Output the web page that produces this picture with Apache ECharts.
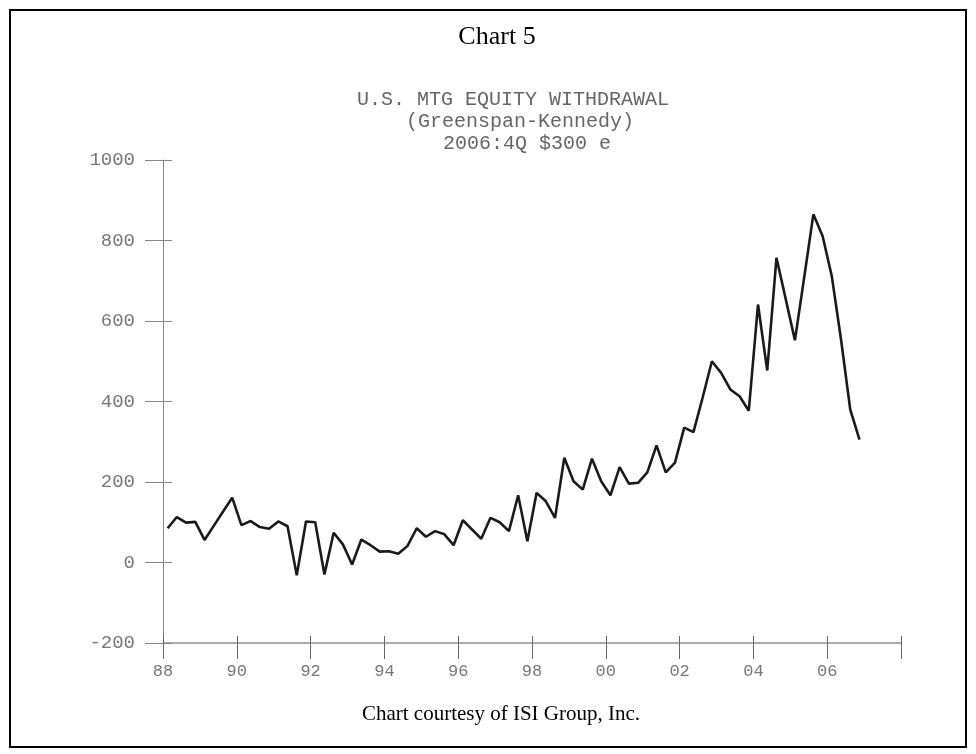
<!DOCTYPE html>
<html>
<head>
<meta charset="utf-8">
<script src="https://cdn.jsdelivr.net/npm/echarts@6/dist/echarts.min.js"></script>
<style>
html,body{margin:0;padding:0;background:#fff;}
#chart{width:976px;height:754px;}
</style>
</head>
<body>
<div id="chart"></div>
<script>
// ---- Data (quarterly, $ billions) ----
var startYear = 1988;
var endYear = 2006;
var withdrawal = [
  85, 113, 99, 101,        // 1988
  56, 91, 126, 161,        // 1989
  93, 103, 88, 84,         // 1990
  102, 90, -32, 102,       // 1991
  100, -30, 74, 45,        // 1992
  -5, 57, 43, 27,          // 1993
  28, 22, 41, 85,          // 1994
  64, 78, 70, 43,          // 1995
  105, 82, 59, 111,        // 1996
  100, 78, 167, 53,        // 1997
  173, 152, 111, 260,      // 1998
  202, 181, 258, 202,      // 1999
  167, 237, 196, 198,      // 2000
  224, 291, 224, 248,      // 2001
  335, 324, 410, 500,      // 2002
  471, 430, 413, 377,      // 2003
  641, 477, 757, 655,      // 2004
  552, 707, 865, 811,      // 2005
  711, 554, 380, 305       // 2006
];
var xTickLabels = {1988:'88',1990:'90',1992:'92',1994:'94',1996:'96',1998:'98',2000:'00',2002:'02',2004:'04',2006:'06',2008:''};
var yTickLabels = {'-200':'-200','0':'0','200':'200','400':'400','600':'600','800':'800','1000':'1000'};
var titleLines = ['U.S. MTG EQUITY WITHDRAWAL', '(Greenspan-Kennedy)', '2006:4Q $300 e'];
var headerText = 'Chart 5';
var footerText = 'Chart courtesy of ISI Group, Inc.';

// quarter labels and their positions on the time (year) axis: middle of each quarter
var quarterLabels = [];
for (var y = startYear; y <= endYear; y++) for (var q = 1; q <= 4; q++) quarterLabels.push(y + 'Q' + q);
var seriesData = quarterLabels.map(function (lab, i) {
  var yr = parseInt(lab.slice(0, 4), 10), qt = parseInt(lab.slice(5), 10);
  return [yr + (qt - 0.5) / 4, withdrawal[i]];
});

var chart = echarts.init(document.getElementById('chart'), null, {renderer: 'canvas'});
var mono = '"Liberation Mono", "DejaVu Sans Mono", monospace';
var serif = '"Liberation Serif", "Times New Roman", serif';

var option = {
  backgroundColor: '#fff',
  animation: false,
  grid: {left: 163, top: 160, width: 738, height: 483, containLabel: false},
  xAxis: [
    {
      type: 'value', min: 1988, max: 2008, interval: 2,
      axisLine: {show: true, onZero: false, lineStyle: {color: '#aaa', width: 2}},
      axisTick: {show: true, inside: false, length: 16, lineStyle: {color: '#666', width: 1}},
      axisLabel: {margin: 20, color: '#777', fontFamily: mono, fontSize: 17,
        formatter: function (v) { return xTickLabels[v] !== undefined ? xTickLabels[v] : ''; }},
      splitLine: {show: false}
    },
    {
      type: 'value', min: 1988, max: 2008, interval: 2, position: 'bottom',
      axisLine: {show: false, onZero: false},
      axisTick: {show: true, inside: true, length: 7, lineStyle: {color: '#666', width: 1}},
      axisLabel: {show: false}, splitLine: {show: false}
    }
  ],
  yAxis: [
    {
      type: 'value', min: -200, max: 1000, interval: 200,
      axisLine: {show: true, onZero: false, lineStyle: {color: '#888', width: 1}},
      axisTick: {show: true, inside: false, length: 18, lineStyle: {color: '#888', width: 1}},
      axisLabel: {margin: 28, color: '#777', fontFamily: mono, fontSize: 19,
        formatter: function (v) { return yTickLabels[String(v)] || ''; }},
      splitLine: {show: false}
    },
    {
      type: 'value', min: -200, max: 1000, interval: 200, position: 'left',
      axisLine: {show: false, onZero: false},
      axisTick: {show: true, inside: true, length: 9, lineStyle: {color: '#888', width: 1}},
      axisLabel: {show: false}, splitLine: {show: false}
    }
  ],
  series: [{
    type: 'line',
    data: seriesData,
    showSymbol: false,
    symbol: 'none',
    lineStyle: {color: '#1a1a1a', width: 2.6},
    silent: true
  }],
  graphic: [
    {type: 'rect', shape: {x: 10, y: 10, width: 956, height: 737}, style: {fill: 'none', stroke: '#000', lineWidth: 2}, silent: true},
    {type: 'text', x: 497, y: 37, style: {text: headerText, font: '26px ' + serif, fill: '#000', align: 'center', verticalAlign: 'middle'}},
    {type: 'text', x: 513, y: 100, style: {text: titleLines[0], font: '20px ' + mono, fill: '#666', align: 'center', verticalAlign: 'middle'}},
    {type: 'text', x: 520, y: 122, style: {text: titleLines[1], font: '20px ' + mono, fill: '#666', align: 'center', verticalAlign: 'middle'}},
    {type: 'text', x: 527, y: 144, style: {text: titleLines[2], font: '20px ' + mono, fill: '#666', align: 'center', verticalAlign: 'middle'}},
    {type: 'text', x: 501, y: 714, style: {text: footerText, font: '21px ' + serif, fill: '#000', align: 'center', verticalAlign: 'middle'}}
  ]
};
chart.setOption(option);
</script>
</body>
</html>
